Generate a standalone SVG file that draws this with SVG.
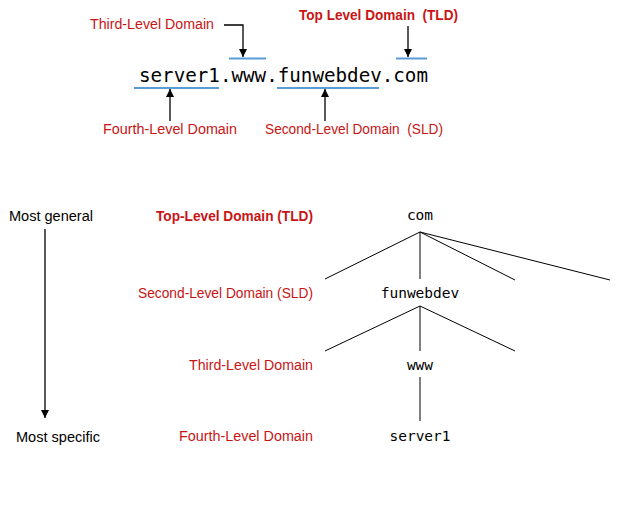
<svg xmlns="http://www.w3.org/2000/svg" width="625" height="507" viewBox="0 0 625 507">
<defs>
<marker id="ah" markerWidth="8" markerHeight="10" refX="8" refY="4" orient="auto" markerUnits="userSpaceOnUse">
<path d="M0,0 L8,4 L0,8 Z" fill="#000"/>
</marker>
<style>
.lbl{font-family:"Liberation Sans",Arial,sans-serif;font-size:14px;fill:#c81414}
.b{font-weight:bold}
.blk{font-family:"Liberation Sans",Arial,sans-serif;font-size:14px;fill:#000}
.mono{font-family:"DejaVu Sans Mono","Liberation Mono",monospace;fill:#000}
.ul{stroke:#5b9bd5;stroke-width:2;fill:none}
.ln{stroke:#000;stroke-width:1;fill:none}
.arr{stroke:#000;stroke-width:1.3;fill:none;marker-end:url(#ah)}
</style>
</defs>
<rect width="625" height="507" fill="#fff"/>

<g id="top-example">
<text class="mono" x="139" y="82" font-size="19.3" textLength="289" lengthAdjust="spacingAndGlyphs">server1.www.funwebdev.com</text>
</g>
<g id="top-labels">
<text class="lbl" x="90" y="29" textLength="124" lengthAdjust="spacingAndGlyphs">Third-Level Domain</text>
<text class="lbl b" x="299" y="20" textLength="159" lengthAdjust="spacingAndGlyphs">Top Level Domain&#160; (TLD)</text>
<text class="lbl" x="103" y="134" textLength="134" lengthAdjust="spacingAndGlyphs">Fourth-Level Domain</text>
<text class="lbl" x="265" y="134" textLength="178" lengthAdjust="spacingAndGlyphs">Second-Level Domain&#160; (SLD)</text>
</g>
<g id="top-connectors">
<line class="ul" x1="229" y1="58.5" x2="266" y2="58.5"/>
<line class="ul" x1="396" y1="58.5" x2="427" y2="58.5"/>
<line class="ul" x1="134" y1="88" x2="219" y2="88"/>
<line class="ul" x1="277" y1="88" x2="379" y2="88"/>
<path class="arr" d="M224,25 H243 V57"/>
<path class="arr" d="M408,26 V57"/>
<path class="arr" d="M170,121 V89"/>
<path class="arr" d="M325,121 V89"/>
</g>

<g id="scale">
<text class="blk" x="9" y="221" textLength="84" lengthAdjust="spacingAndGlyphs">Most general</text>
<text class="blk" x="16" y="442" textLength="84" lengthAdjust="spacingAndGlyphs">Most specific</text>
</g>
<g id="scale-arrow">
<path class="arr" d="M45,229 V418"/>
</g>

<g id="level-labels">
<text class="lbl b" x="313" y="221" text-anchor="end" textLength="157" lengthAdjust="spacingAndGlyphs">Top-Level Domain (TLD)</text>
<text class="lbl" x="313" y="298" text-anchor="end" textLength="175" lengthAdjust="spacingAndGlyphs">Second-Level Domain (SLD)</text>
<text class="lbl" x="313" y="370" text-anchor="end" textLength="124" lengthAdjust="spacingAndGlyphs">Third-Level Domain</text>
<text class="lbl" x="313" y="441" text-anchor="end" textLength="134" lengthAdjust="spacingAndGlyphs">Fourth-Level Domain</text>
</g>

<g id="node-com"><text class="mono" x="420" y="220" font-size="14.5" text-anchor="middle">com</text></g>
<g id="node-funwebdev"><text class="mono" x="420" y="298" font-size="14.5" text-anchor="middle">funwebdev</text></g>
<g id="node-www"><text class="mono" x="420" y="370" font-size="14.5" text-anchor="middle">www</text></g>
<g id="node-server1"><text class="mono" x="420" y="441" font-size="14.5" text-anchor="middle">server1</text></g>

<g id="tree-connectors">
<line class="ln" x1="420" y1="232" x2="325" y2="279"/>
<line class="ln" x1="420" y1="232" x2="420" y2="279"/>
<line class="ln" x1="420" y1="232" x2="515" y2="280"/>
<line class="ln" x1="420" y1="232" x2="610" y2="280"/>
<line class="ln" x1="420" y1="306" x2="325" y2="351"/>
<line class="ln" x1="420" y1="306" x2="420" y2="351"/>
<line class="ln" x1="420" y1="306" x2="515" y2="351"/>
<line class="ln" x1="420" y1="377" x2="420" y2="421"/>
</g>
</svg>
